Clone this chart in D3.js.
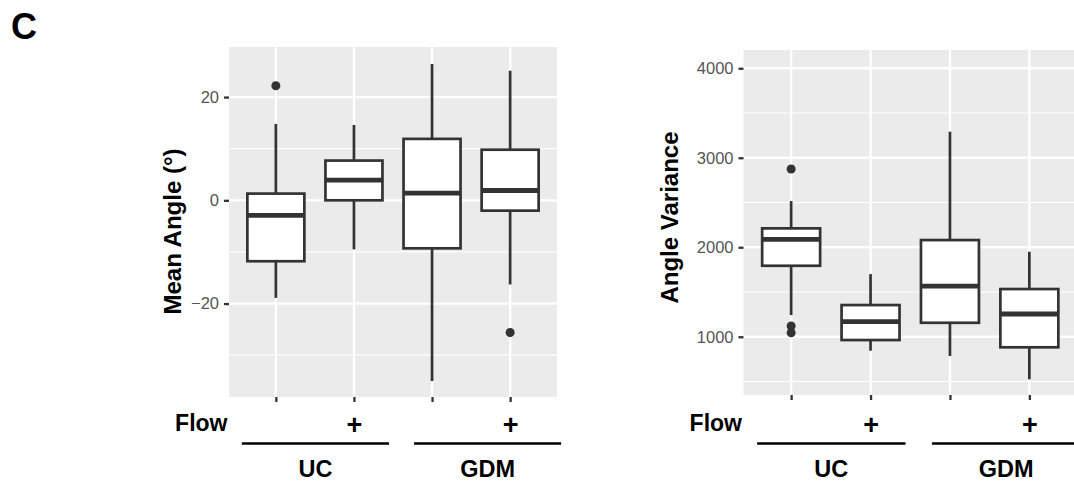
<!DOCTYPE html>
<html>
<head>
<meta charset="utf-8">
<script src="https://cdn.jsdelivr.net/npm/d3@7"></script>
<style>
  html, body { margin: 0; padding: 0; background: #ffffff; }
  svg { display: block; font-family: "Liberation Sans", Arial, Helvetica, sans-serif; }
</style>
</head>
<body>
<svg id="fig" width="1074" height="485"></svg>
<script>
// Conditions along the x axis, and the flow marker printed under each
const categories = ["UC-", "UC+", "GDM-", "GDM+"];
const flowLabels = ["", "+", "", "+"];
const groups = ["UC", "GDM"];

// Mean angle (degrees): whisker ends, quartiles, medians, outliers
const angleLow    = [-18.9, -9.5, -35.0, -16.3];
const angleQ1     = [-11.8,  0.0,  -9.3,  -2.0];
const angleMedian = [ -2.9,  3.9,   1.4,   1.9];
const angleQ3     = [  1.3,  7.7,  11.9,   9.8];
const angleHigh   = [ 14.8, 14.6,  26.4,  25.1];
const angleOutliers = [[22.2], [], [], [-25.6]];
const angleTicks = [-20, 0, 20];
const angleMinor = [-30, -10, 10];

// Angle variance: whisker ends, quartiles, medians, outliers
const varLow    = [1242,  844,  784,  524];
const varQ1     = [1793,  963, 1156,  882];
const varMedian = [2088, 1168, 1566, 1254];
const varQ3     = [2211, 1354, 2080, 1533];
const varHigh   = [2516, 1700, 3291, 1950];
const varOutliers = [[2874, 1120, 1045], [], [], []];
const varTicks = [1000, 2000, 3000, 4000];
const varMinor = [500, 1500, 2500, 3500];

const svg = d3.select("#fig");
const INK = "#333333";

// Panel label
svg.append("text")
  .attr("x", 11).attr("y", 38.5)
  .attr("font-size", 36).attr("font-weight", "bold").attr("fill", "#000")
  .text("C");

function boxPanel(opt) {
  const g = svg.append("g");
  const x = d3.scalePoint().domain(categories)
    .range([opt.left, opt.right]).padding(0.6);
  const y = d3.scaleLinear().domain(opt.domain).range([opt.bottom, opt.top]);
  const step = x.step();
  const boxW = step * 0.73;

  // grey panel
  g.append("rect")
    .attr("x", opt.left).attr("y", opt.top)
    .attr("width", opt.right - opt.left).attr("height", opt.bottom - opt.top)
    .attr("fill", "#EBEBEB");

  // minor and major grid
  g.selectAll(".minor").data(opt.minor).join("line")
    .attr("x1", opt.left).attr("x2", opt.right)
    .attr("y1", d => y(d)).attr("y2", d => y(d))
    .attr("stroke", "#fff").attr("stroke-width", 1.2);
  g.selectAll(".major").data(opt.ticks).join("line")
    .attr("x1", opt.left).attr("x2", opt.right)
    .attr("y1", d => y(d)).attr("y2", d => y(d))
    .attr("stroke", "#fff").attr("stroke-width", 2.3);
  g.selectAll(".vmajor").data(categories).join("line")
    .attr("x1", d => x(d)).attr("x2", d => x(d))
    .attr("y1", opt.top).attr("y2", opt.bottom)
    .attr("stroke", "#fff").attr("stroke-width", 2.3);

  const rows = categories.map((c, i) => ({
    c, lo: opt.low[i], q1: opt.q1[i], med: opt.median[i], q3: opt.q3[i],
    hi: opt.high[i], out: opt.outliers[i]
  }));

  const b = g.selectAll(".box").data(rows).join("g");
  // whiskers
  b.append("line")
    .attr("x1", d => x(d.c)).attr("x2", d => x(d.c))
    .attr("y1", d => y(d.q3)).attr("y2", d => y(d.hi))
    .attr("stroke", INK).attr("stroke-width", 2.7);
  b.append("line")
    .attr("x1", d => x(d.c)).attr("x2", d => x(d.c))
    .attr("y1", d => y(d.q1)).attr("y2", d => y(d.lo))
    .attr("stroke", INK).attr("stroke-width", 2.7);
  // box
  b.append("rect")
    .attr("x", d => x(d.c) - boxW / 2).attr("width", boxW)
    .attr("y", d => y(d.q3)).attr("height", d => y(d.q1) - y(d.q3))
    .attr("fill", "#fff").attr("stroke", INK).attr("stroke-width", 2.7);
  // median
  b.append("line")
    .attr("x1", d => x(d.c) - boxW / 2).attr("x2", d => x(d.c) + boxW / 2)
    .attr("y1", d => y(d.med)).attr("y2", d => y(d.med))
    .attr("stroke", INK).attr("stroke-width", 4.8);
  // outliers
  b.selectAll("circle").data(d => d.out.map(v => ({ c: d.c, v }))).join("circle")
    .attr("cx", d => x(d.c)).attr("cy", d => y(d.v)).attr("r", 4.5)
    .attr("fill", INK);

  // y axis
  const ya = g.append("g").attr("transform", `translate(${opt.left},0)`)
    .call(d3.axisLeft(y).tickValues(opt.ticks).tickSize(5).tickPadding(5)
      .tickFormat(d3.format("d")));
  ya.select(".domain").remove();
  ya.selectAll(".tick line").attr("stroke", INK).attr("stroke-width", 2.3);
  ya.selectAll(".tick text").attr("fill", "#555").attr("font-size", 16.5)
    .attr("font-family", "Liberation Sans, Arial, sans-serif");

  // x axis: flow marker labels
  const xa = g.append("g").attr("transform", `translate(0,${opt.bottom})`)
    .call(d3.axisBottom(x).tickSize(5).tickPadding(12)
      .tickFormat((d, i) => flowLabels[i]));
  xa.select(".domain").remove();
  xa.selectAll(".tick line").attr("stroke", INK).attr("stroke-width", 2.3);
  xa.selectAll(".tick text").attr("fill", "#000").attr("font-size", 27)
    .attr("font-weight", "bold").attr("dy", null)
    .attr("y", 434 - opt.bottom)
    .attr("font-family", "Liberation Sans, Arial, sans-serif");

  // "Flow" row label
  g.append("text")
    .attr("x", opt.left - 1.5).attr("y", 431)
    .attr("text-anchor", "end").attr("font-size", 23).attr("font-weight", "bold")
    .text("Flow");

  // axis title
  g.append("text")
    .attr("transform", `translate(${opt.titleX},${opt.titleY}) rotate(-90)`)
    .attr("text-anchor", "middle").attr("font-size", 24).attr("font-weight", "bold")
    .text(opt.title);

  // group brackets and labels
  const spans = [
    [x(categories[0]) - 34, x(categories[1]) + 35],
    [x(categories[2]) - 18, x(categories[3]) + 51]
  ];
  groups.forEach((name, i) => {
    const [a, z] = spans[i];
    g.append("line")
      .attr("x1", a).attr("x2", z).attr("y1", 443.5).attr("y2", 443.5)
      .attr("stroke", "#000").attr("stroke-width", 2.3);
    g.append("text")
      .attr("x", (a + z) / 2).attr("y", 477)
      .attr("text-anchor", "middle").attr("font-size", 23.5).attr("font-weight", "bold")
      .text(name);
  });
}

boxPanel({
  left: 229, right: 557, top: 47, bottom: 397,
  domain: [-38.1, 29.7], ticks: angleTicks, minor: angleMinor,
  low: angleLow, q1: angleQ1, median: angleMedian, q3: angleQ3, high: angleHigh,
  outliers: angleOutliers,
  title: "Mean Angle (°)", titleX: 180.5, titleY: 231.5
});

boxPanel({
  left: 743.5, right: 1077, top: 50, bottom: 395,
  domain: [349, 4204], ticks: varTicks, minor: varMinor,
  low: varLow, q1: varQ1, median: varMedian, q3: varQ3, high: varHigh,
  outliers: varOutliers,
  title: "Angle Variance", titleX: 677.5, titleY: 217.5
});
</script>
</body>
</html>
